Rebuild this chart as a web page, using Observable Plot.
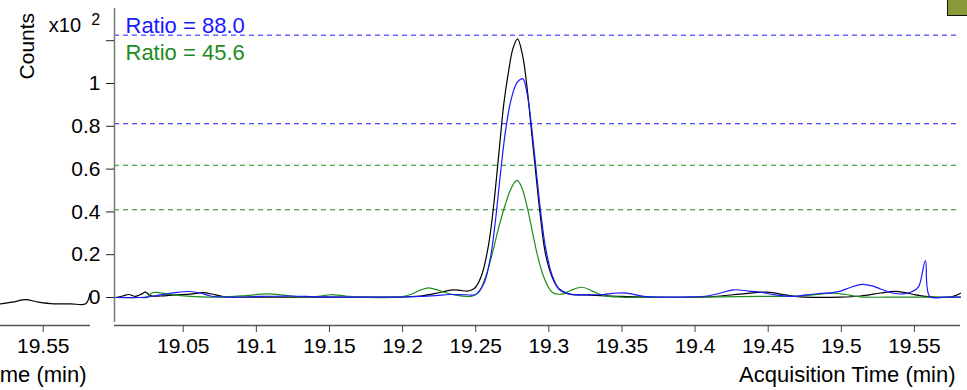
<!DOCTYPE html>
<html>
<head>
<meta charset="utf-8">
<script src="https://cdn.jsdelivr.net/npm/d3@7"></script>
<script src="https://cdn.jsdelivr.net/npm/@observablehq/plot@0.6"></script>
<style>
  html, body { margin: 0; padding: 0; background: #fff; }
  body { position: relative; width: 967px; height: 390px; overflow: hidden; }
  #left { position: absolute; left: -210px; top: 0; }
  #main { position: absolute; left: 0; top: 0; }
  #badge {
    position: absolute; left: 947px; top: -6px; width: 20px; height: 20px;
    background: #8b993a; border: 1.5px solid #111;
  }
</style>
</head>
<body>
<div id="left"></div>
<div id="main"></div>
<div id="badge"></div>
<script>
// Acquisition time (min) and counts (x10^2) for the three transitions
const quantTrace = [
  [19.0037, 0.000], [19.0085, 0.007], [19.0128, 0.014], [19.0174, 0.005], [19.0215, 0.016],
  [19.0242, 0.025], [19.0276, 0.009], [19.0345, 0.007], [19.0447, 0.012], [19.0550, 0.016],
  [19.0641, 0.023], [19.0721, 0.012], [19.0789, 0.003], [19.1029, 0.002], [19.1302, 0.002],
  [19.1644, 0.002], [19.1986, 0.002], [19.2122, 0.007], [19.2225, 0.019], [19.2293, 0.030],
  [19.2350, 0.036], [19.2396, 0.033], [19.2442, 0.030], [19.2471, 0.035], [19.2499, 0.048],
  [19.2544, 0.111], [19.2589, 0.251], [19.2624, 0.438], [19.2658, 0.671], [19.2692, 0.905],
  [19.2722, 1.045], [19.2754, 1.162], [19.2786, 1.209], [19.2822, 1.126], [19.2852, 0.975],
  [19.2881, 0.780], [19.2909, 0.593], [19.2943, 0.375], [19.2977, 0.204], [19.3023, 0.095],
  [19.3068, 0.041], [19.3136, 0.017], [19.3251, 0.012], [19.3353, 0.009], [19.3490, 0.005],
  [19.3695, 0.002], [19.4037, 0.002], [19.4174, 0.007], [19.4310, 0.016], [19.4493, 0.025],
  [19.4618, 0.012], [19.4721, 0.003], [19.4994, 0.002], [19.5131, 0.007], [19.5268, 0.021],
  [19.5359, 0.029], [19.5438, 0.023], [19.5507, 0.012], [19.5609, 0.003], [19.5746, 0.002],
  [19.5780, 0.009], [19.5815, 0.020]
];

const qual1Trace = [
  [19.0037, 0.000], [19.0208, 0.000], [19.0254, 0.002], [19.0345, 0.012], [19.0447, 0.023],
  [19.0538, 0.028], [19.0618, 0.021], [19.0687, 0.007], [19.0823, 0.002], [19.1029, 0.005],
  [19.1234, 0.007], [19.1439, 0.003], [19.1712, 0.002], [19.1986, 0.002], [19.2122, 0.005],
  [19.2225, 0.009], [19.2328, 0.014], [19.2430, 0.013], [19.2499, 0.014], [19.2555, 0.064],
  [19.2601, 0.188], [19.2635, 0.360], [19.2669, 0.578], [19.2704, 0.780], [19.2738, 0.913],
  [19.2772, 0.991], [19.2795, 1.014], [19.2822, 1.022], [19.2852, 0.952], [19.2881, 0.804],
  [19.2909, 0.625], [19.2943, 0.407], [19.2977, 0.235], [19.3023, 0.103], [19.3068, 0.041],
  [19.3136, 0.017], [19.3285, 0.013], [19.3376, 0.014], [19.3435, 0.019], [19.3502, 0.022],
  [19.3572, 0.016], [19.3649, 0.005], [19.3763, 0.002], [19.3969, 0.003], [19.4083, 0.007],
  [19.4174, 0.021], [19.4265, 0.036], [19.4365, 0.030], [19.4447, 0.025], [19.4550, 0.012],
  [19.4675, 0.005], [19.4755, 0.012], [19.4857, 0.019], [19.4972, 0.026], [19.5062, 0.047],
  [19.5142, 0.061], [19.5213, 0.054], [19.5268, 0.040], [19.5359, 0.020], [19.5427, 0.017],
  [19.5486, 0.028], [19.5529, 0.051], [19.5575, 0.173], [19.5605, 0.005], [19.5712, 0.002],
  [19.5815, 0.002]
];

const qual2Trace = [
  [19.0037, 0.000], [19.0208, 0.000], [19.0254, 0.002], [19.0288, 0.022], [19.0345, 0.022],
  [19.0391, 0.016], [19.0482, 0.009], [19.0618, 0.003], [19.0755, 0.002], [19.0926, 0.009],
  [19.1074, 0.017], [19.1199, 0.010], [19.1302, 0.003], [19.1439, 0.007], [19.1507, 0.013],
  [19.1610, 0.007], [19.1712, 0.002], [19.1986, 0.003], [19.2054, 0.014], [19.2122, 0.035],
  [19.2179, 0.045], [19.2246, 0.033], [19.2328, 0.016], [19.2396, 0.008], [19.2476, 0.006],
  [19.2521, 0.025], [19.2567, 0.095], [19.2613, 0.204], [19.2658, 0.329], [19.2704, 0.438],
  [19.2738, 0.503], [19.2767, 0.539], [19.2786, 0.547], [19.2818, 0.508], [19.2852, 0.422],
  [19.2886, 0.313], [19.2920, 0.204], [19.2966, 0.095], [19.3023, 0.025], [19.3091, 0.016],
  [19.3148, 0.033], [19.3228, 0.048], [19.3298, 0.030], [19.3376, 0.009], [19.3490, 0.002],
  [19.4037, 0.002], [19.4447, 0.005], [19.4721, 0.007], [19.4857, 0.016], [19.4948, 0.020],
  [19.5028, 0.014], [19.5131, 0.003], [19.5404, 0.002], [19.5815, 0.002]
];

// Tail of the neighbouring chromatogram panel
const prevPanelTrace = [
  [19.5208, 0.000], [19.5290, 0.008], [19.5379, 0.019], [19.5468, 0.008], [19.5573, 0.000],
  [19.5687, 0.000], [19.5790, 0.000], [19.5819, 0.047]
];

// Qualifier ratio tolerance bands (x10^2 counts)
const qual1Limits = [1.226, 0.812];
const qual2Limits = [0.618, 0.410];

const ratioLabels = ["Ratio = 88.0", "Ratio = 45.6"];

const timeTicks = [19.05, 19.1, 19.15, 19.2, 19.25, 19.3, 19.35, 19.4, 19.45, 19.5, 19.55];
const countTicks = [0, 0.2, 0.4, 0.6, 0.8, 1, 1.2];
const countTickLabels = ["0", "0.2", "0.4", "0.6", "0.8", "1", ""];

const xDomain = [19.003, 19.5815];
const yDomain = [-0.1308, 1.3505];

const BLUE = "#1a1aff";
const GREEN = "#1e8c1e";
const FONT = "'Liberation Sans', Arial, Helvetica, sans-serif";

const traceOpts = {x: d => d[0], y: d => d[1], strokeWidth: 1.2, curve: "catmull-rom"};
const note = {text: d => d, lineAnchor: "middle"};

const main = Plot.plot({
  width: 967,
  height: 390,
  marginLeft: 114,
  marginRight: 7,
  marginTop: 8,
  marginBottom: 65,
  style: {fontFamily: FONT, fontSize: "21px", background: "transparent", color: "#000"},
  x: {domain: xDomain},
  y: {domain: yDomain},
  marks: [
    Plot.ruleY(qual1Limits, {stroke: BLUE, strokeWidth: 1, strokeDasharray: "5,4"}),
    Plot.ruleY(qual2Limits, {stroke: GREEN, strokeWidth: 1, strokeDasharray: "5,4"}),
    // axis lines: the vertical one stops short of the time axis
    Plot.ruleX([xDomain[0]], {y1: yDomain[0] + 0.014, y2: yDomain[1], stroke: "#7a7a7a", strokeWidth: 1.5}),
    Plot.ruleY([yDomain[0]], {stroke: "#555", strokeWidth: 1.5}),
    Plot.axisY(countTicks, {
      tickSize: 8, tickPadding: 6, stroke: "#222", label: null,
      tickFormat: d => countTickLabels[countTicks.indexOf(d)]
    }),
    Plot.axisX(timeTicks, {
      tickSize: 7, tickPadding: 6, stroke: "#444", label: null,
      tickFormat: d => String(d)
    }),
    Plot.line(quantTrace, {...traceOpts, stroke: "#000"}),
    Plot.line(qual2Trace, {...traceOpts, stroke: GREEN}),
    Plot.line(qual1Trace, {...traceOpts, stroke: BLUE}),
    Plot.text([ratioLabels[0]], {...note, frameAnchor: "top-left", dx: 11, dy: 17.7, textAnchor: "start", fill: BLUE, fontSize: 22}),
    Plot.text([ratioLabels[1]], {...note, frameAnchor: "top-left", dx: 11, dy: 44.3, textAnchor: "start", fill: GREEN, fontSize: 22}),
    Plot.text(["Counts"], {...note, frameAnchor: "top-left", dx: -87.7, dy: 37.7, textAnchor: "middle", rotate: -90, fontSize: 21}),
    Plot.text(["x10"], {...note, frameAnchor: "top-left", dx: -65.7, dy: 17.3, textAnchor: "start", fontSize: 20}),
    Plot.text(["2"], {...note, frameAnchor: "top-left", dx: -23.3, dy: 11.2, textAnchor: "start", fontSize: 16}),
    Plot.text(["Acquisition Time (min)"], {...note, frameAnchor: "bottom-right", dx: -5, dy: 49.7, textAnchor: "end", fontSize: 22})
  ]
});
document.getElementById("main").append(main);

const left = Plot.plot({
  width: 300,
  height: 390,
  marginLeft: 210,
  marginRight: 0,
  marginTop: 8,
  marginBottom: 65,
  style: {fontFamily: FONT, fontSize: "21px", background: "transparent", color: "#000"},
  x: {domain: [19.5208, 19.5823]},
  y: {domain: [-0.1014, 1.3786], axis: null},
  marks: [
    Plot.ruleY([-0.1014], {stroke: "#555", strokeWidth: 1.5}),
    Plot.axisX([19.55], {tickSize: 7, tickPadding: 6, stroke: "#444", label: null, tickFormat: d => String(d)}),
    Plot.line(prevPanelTrace, {...traceOpts, stroke: "#000", clip: true}),
    Plot.text(["Acquisition Time (min)"], {...note, frameAnchor: "bottom-right", dx: -4, dy: 49.7, textAnchor: "end", fontSize: 22})
  ]
});
document.getElementById("left").append(left);
</script>
</body>
</html>
